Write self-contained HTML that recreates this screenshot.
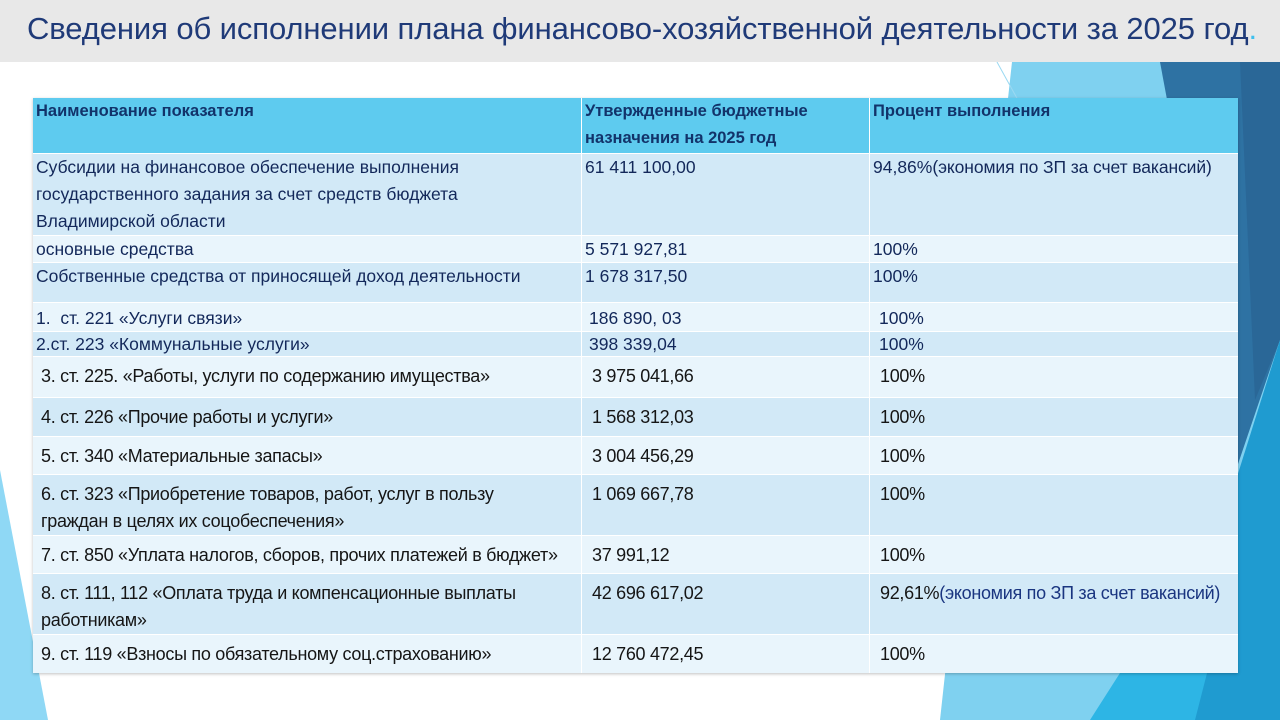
<!DOCTYPE html>
<html><head><meta charset="utf-8"><style>
body{margin:0;width:1280px;height:720px;overflow:hidden;background:#fff;font-family:"Liberation Sans",sans-serif;position:relative}
#bg{position:absolute;left:0;top:0}
#title{position:absolute;left:0;top:0;width:1280px;height:62px;background:#e8e8e8}
#title h1{margin:0;position:absolute;left:27px;top:11px;font-weight:normal;font-size:31px;color:#1f3a78;white-space:nowrap;letter-spacing:-0.1px}
#title h1 span{color:#3ec0ee}
#tbl{position:absolute;left:33px;top:98px;width:1205px;height:575px;box-shadow:0 1px 3px rgba(0,0,0,.25)}
.row{position:absolute;left:0;width:1205px;border-top:1px solid #fff;box-sizing:border-box}
.c{position:absolute;top:0;height:100%;line-height:27px;font-size:17.5px;color:#13285a;white-space:nowrap;box-sizing:border-box;padding-left:3px}
.c1{left:0;width:548px}
.c2{left:548px;width:288px;border-left:1px solid #fff}
.c3{left:836px;width:369px;border-left:1px solid #fff}
.hd .c{font-weight:bold;color:#12336a;font-size:16.5px}
.dk{background:#d2e9f7}.lt{background:#e9f5fc}
.s .c{font-size:18px;color:#151515;letter-spacing:-0.3px;padding-top:6px}
.s .c1{padding-left:8px}.s .c2,.s .c3{padding-left:10px}
.n{color:#1a3580}
</style></head><body>
<svg id="bg" width="1280" height="720">
<polygon points="1012,62 1280,62 1280,720 940,720" fill="#7fd1f0"/>
<line x1="997" y1="62" x2="1040" y2="140" stroke="#9bd9f2" stroke-width="1"/>
<polygon points="1160,62 1280,62 1280,340 1236,470" fill="#2e72a3"/>
<polygon points="1240,62 1280,62 1280,340 1255,400" fill="#2a6797"/>
<polygon points="1280,340 1280,720 1190,720 1236,480" fill="#1f9bd0"/>
<polygon points="1090,720 1195,720 1236,560 1236,673 1120,673" fill="#2db5e5"/>
<polygon points="0,470 48,720 0,720" fill="#8fd8f5"/>
</svg>
<div id="title"><h1>Сведения об исполнении плана финансово-хозяйственной деятельности за 2025 год<span>.</span></h1></div>
<div id="tbl">
<div class="row hd" style="top:0;height:55px;background:#5ecbef;border-top:none">
<div class="c c1">Наименование показателя</div>
<div class="c c2">Утвержденные бюджетные<br>назначения на 2025 год</div>
<div class="c c3">Процент выполнения</div></div>
<div class="row dk" style="top:55px;height:82px">
<div class="c c1">Субсидии на финансовое обеспечение выполнения<br>государственного задания за счет средств бюджета<br>Владимирской области</div>
<div class="c c2">61 411 100,00</div><div class="c c3">94,86%<span style="font-size:17.5px;letter-spacing:-0.1px">(экономия по ЗП за счет вакансий)</span></div></div>
<div class="row lt" style="top:137px;height:27px">
<div class="c c1">основные средства</div><div class="c c2">5 571 927,81</div><div class="c c3">100%</div></div>
<div class="row dk" style="top:164px;height:40px">
<div class="c c1">Собственные средства от приносящей доход деятельности</div><div class="c c2">1 678 317,50</div><div class="c c3">100%</div></div>
<div class="row lt" style="top:204px;height:29px">
<div class="c c1" style="padding-top:2px">1.&nbsp; ст. 221 «Услуги связи»</div><div class="c c2" style="padding-top:2px;padding-left:7px">186 890, 03</div><div class="c c3" style="padding-top:2px;padding-left:9px">100%</div></div>
<div class="row dk" style="top:233px;height:25px">
<div class="c c1" style="line-height:25px">2.ст. 223 «Коммунальные услуги»</div><div class="c c2" style="line-height:25px;padding-left:7px">398 339,04</div><div class="c c3" style="line-height:25px;padding-left:9px">100%</div></div>
<div class="row lt s" style="top:258px;height:41px">
<div class="c c1">3. ст. 225. «Работы, услуги по содержанию имущества»</div><div class="c c2">3 975 041,66</div><div class="c c3">100%</div></div>
<div class="row dk s" style="top:299px;height:39px">
<div class="c c1">4. ст. 226 «Прочие работы и услуги»</div><div class="c c2">1 568 312,03</div><div class="c c3">100%</div></div>
<div class="row lt s" style="top:338px;height:38px">
<div class="c c1">5. ст. 340 «Материальные запасы»</div><div class="c c2">3 004 456,29</div><div class="c c3">100%</div></div>
<div class="row dk s" style="top:376px;height:61px">
<div class="c c1">6. ст. 323 «Приобретение товаров, работ, услуг в пользу<br>граждан в целях их соцобеспечения»</div><div class="c c2">1 069 667,78</div><div class="c c3">100%</div></div>
<div class="row lt s" style="top:437px;height:38px">
<div class="c c1">7. ст. 850 «Уплата налогов, сборов, прочих платежей в бюджет»</div><div class="c c2">37 991,12</div><div class="c c3">100%</div></div>
<div class="row dk s" style="top:475px;height:61px">
<div class="c c1">8. ст. 111, 112 «Оплата труда и компенсационные выплаты<br>работникам»</div><div class="c c2">42 696 617,02</div><div class="c c3">92,61%<span class="n">(экономия по ЗП за счет вакансий)</span></div></div>
<div class="row lt s" style="top:536px;height:39px">
<div class="c c1">9. ст. 119 «Взносы по обязательному соц.страхованию»</div><div class="c c2">12 760 472,45</div><div class="c c3">100%</div></div>
</div>
</body></html>
